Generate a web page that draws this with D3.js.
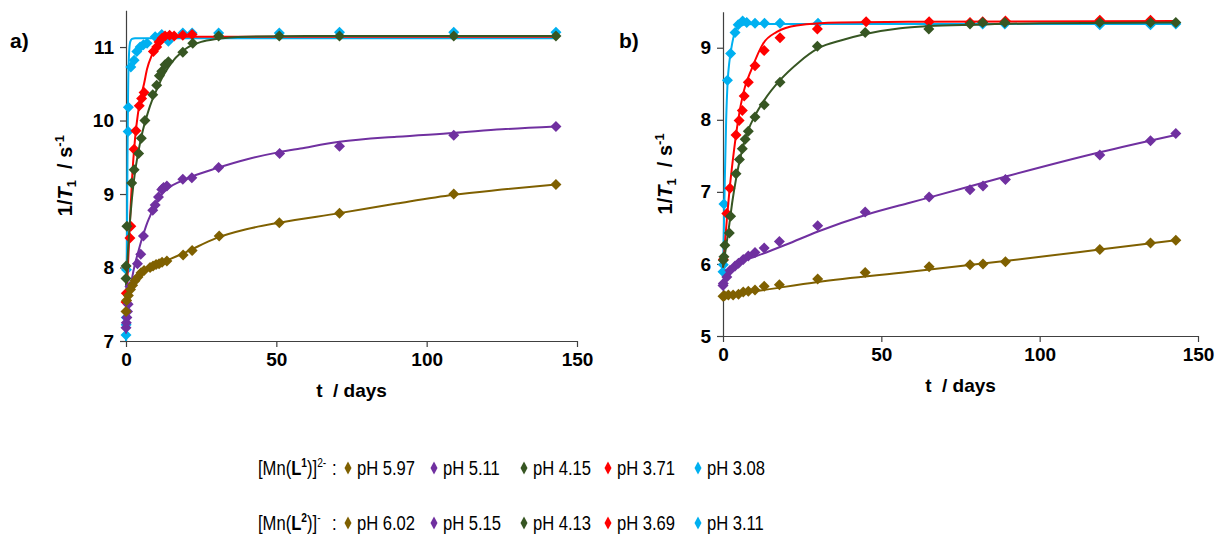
<!DOCTYPE html>
<html>
<head>
<meta charset="utf-8">
<script src="https://cdn.jsdelivr.net/npm/d3@7"></script>
<style>
  body { margin: 0; background: #fff; }
  svg text { font-family: "Liberation Sans", Arial, sans-serif; }
</style>
</head>
<body>
<div id="chart-container"></div>
<script>
// series labels / colours (same order in both panels)
const labelsL1 = ['pH 5.97', 'pH 5.11', 'pH 4.15', 'pH 3.71', 'pH 3.08'];
const labelsL2 = ['pH 6.02', 'pH 5.15', 'pH 4.13', 'pH 3.69', 'pH 3.11'];
const colors = ['#7F6000', '#7030A0', '#375623', '#FF0000', '#00B0F0'];

const xTicks = [0, 50, 100, 150];
const yTicksA = [7, 8, 9, 10, 11];
const yTicksB = [5, 6, 7, 8, 9];

// panel a) [Mn(L1)]2-  : measured points [t (days), 1/T1]
const ptsA597 = [[0,7.40],[0.2,7.55],[0.8,7.62],[1.5,7.70],[2.2,7.76],[3,7.82],[4,7.87],[5,7.93],[6,7.96],[8,8.00],[9,8.02],[10,8.04],[11,8.05],[12,8.07],[13.6,8.09],[19,8.17],[22,8.23],[31,8.43],[51,8.61],[71,8.74],[109,9.00],[143,9.13]];
const ptsA511 = [[0,7.18],[0.1,7.25],[0.3,7.32],[0.5,7.40],[0.7,7.50],[1.3,7.74],[3.8,8.05],[4.9,8.18],[5.8,8.43],[8.9,8.78],[9.7,8.85],[10.8,8.96],[11.9,9.06],[12.5,9.09],[13.6,9.11],[18.9,9.20],[21.9,9.22],[30.8,9.36],[51.1,9.55],[71,9.65],[109,9.80],[143,9.92]];
const ptsA415 = [[0,7.85],[0.05,8.02],[0.3,8.56],[1.9,9.15],[2.7,9.33],[4.2,9.55],[5.1,9.76],[6.3,10.0],[8.9,10.35],[10.2,10.48],[11.1,10.61],[11.9,10.67],[13,10.76],[14.1,10.8],[18.9,10.93],[22.2,11.05],[30.8,11.15],[51,11.15],[71,11.15],[109,11.15],[143,11.15]];
const ptsA371 = [[0,7.53],[0.1,7.65],[1.3,8.4],[1.6,8.56],[2.7,9.61],[3.3,9.86],[4.4,10.2],[5.2,10.3],[6,10.38],[9.1,10.94],[10.2,11.0],[11,11.07],[12,11.12],[13,11.15],[14.5,11.16],[16,11.15],[18.9,11.16],[22,11.17]];
const ptsA308 = [[0,7.08],[0.05,7.22],[0.1,7.32],[0.15,7.97],[0.7,9.85],[0.8,10.18],[1.6,10.73],[2.7,10.82],[3.6,10.94],[4.7,11.0],[5.8,11.03],[7,11.05],[9.7,11.14],[11.9,11.17],[14.1,11.08],[18.9,11.19],[22,11.19],[30.8,11.19],[51,11.19],[71,11.2],[109,11.2],[143,11.2]];

// panel a) fitted curves
const fitA597 = [[0,7.55],[1,7.68],[2,7.76],[4,7.87],[6,7.95],[10,8.03],[15,8.12],[20,8.21],[30,8.40],[40,8.52],[51,8.61],[71,8.74],[90,8.87],[109,8.99],[125,9.06],[143,9.13]];
const fitA511 = [[0,7.1],[1,7.55],[2,7.85],[3,8.05],[4,8.2],[5,8.35],[6,8.48],[7,8.6],[8,8.7],[9,8.8],[10,8.88],[12,9.0],[14,9.08],[18,9.17],[22,9.24],[30,9.35],[40,9.47],[51,9.57],[58,9.62],[71,9.71],[90,9.78],[109,9.83],[125,9.88],[143,9.92]];
const fitA415 = [[0,7.75],[1,8.45],[2,8.95],[3,9.3],[4,9.55],[5,9.76],[6,9.93],[7,10.07],[8,10.2],[10,10.4],[12,10.58],[14,10.72],[16,10.83],[18,10.91],[20,10.98],[25,11.07],[30,11.11],[40,11.14],[60,11.15],[143,11.15]];
const fitA371 = [[0,7.4],[1,8.35],[2,9.2],[3,9.75],[4,10.1],[5,10.33],[6,10.5],[7,10.7],[8.6,10.89],[10,11.0],[11.3,11.09],[14,11.13],[20,11.14],[143,11.14]];
const fitA308 = [[0,7.0],[0.3,8.2],[0.5,9.5],[0.7,10.4],[1,10.9],[1.4,11.07],[2,11.11],[3,11.12],[143,11.12]];

// panel b) [Mn(L2)]-  : measured points
const ptsB602 = [[0,5.55],[0.5,5.56],[1.7,5.57],[3.2,5.57],[4.9,5.58],[6.4,5.61],[8,5.62],[10.1,5.64],[13,5.69],[17.8,5.71],[29.9,5.79],[44.9,5.88],[65.1,5.96],[78,5.99],[82.1,6.0],[89.2,6.03],[119,6.2],[135,6.29],[143,6.33]];
const ptsB515 = [[0,5.70],[0.1,5.73],[1.2,5.82],[2.2,5.91],[3.8,5.97],[4.9,6.01],[6.4,6.06],[8,6.11],[10.1,6.16],[13,6.22],[17.8,6.31],[29.9,6.53],[44.9,6.72],[65.1,6.93],[78,7.03],[82.1,7.08],[89.2,7.17],[119,7.51],[135,7.71],[143,7.81]];
const ptsB413 = [[0.1,6.05],[0.3,6.1],[0.6,6.26],[2,6.43],[2.4,6.66],[4.1,7.25],[5.2,7.45],[6.1,7.6],[7,7.73],[8,7.84],[10.1,8.04],[13,8.21],[18,8.52],[29.8,9.02],[44.9,9.21],[65,9.26],[78,9.33],[82,9.35],[89,9.35],[119,9.35],[135,9.35],[143,9.35]];
const ptsB369 = [[0.1,6.06],[1.2,6.7],[2.2,7.05],[4.1,7.79],[5.1,7.99],[6.1,8.13],[6.7,8.33],[8,8.52],[10.1,8.75],[13,8.96],[18,9.14],[29.8,9.26],[45.2,9.36],[65.1,9.36],[78,9.35],[82,9.36],[89.2,9.37],[119,9.38],[135,9.38]];
const ptsB311 = [[0,5.89],[0.1,5.99],[0.3,6.83],[1.4,8.55],[2.4,8.92],[3.8,9.21],[4.8,9.32],[6.2,9.37],[7.5,9.35],[10.1,9.34],[13.1,9.34],[18,9.34],[30,9.34],[65,9.33],[82,9.33],[89,9.33],[119,9.32],[135,9.32],[143,9.33]];

// panel b) fitted curves
const fitB602 = [[0,5.56],[10,5.62],[30,5.75],[59,5.89],[89,6.04],[119,6.2],[143,6.33]];
const fitB515 = [[0,5.75],[1,5.86],[2.2,5.94],[5.4,6.03],[10,6.1],[20,6.27],[30,6.45],[45,6.68],[59,6.85],[65,6.92],[89,7.21],[119,7.55],[143,7.79]];
const fitB413 = [[0,5.95],[1,6.25],[2,6.55],[3,6.88],[4,7.15],[5,7.38],[6,7.57],[8,7.86],[10,8.05],[13,8.27],[18,8.55],[24,8.8],[30,8.99],[38,9.11],[45,9.19],[56,9.27],[65,9.3],[80,9.32],[100,9.34],[143,9.35]];
const fitB369 = [[0,5.95],[1.2,6.61],[2,7.0],[3.1,7.44],[4.8,8.0],[6.4,8.37],[9.1,8.71],[12.7,9.06],[17,9.22],[23.3,9.31],[37,9.35],[60,9.36],[143,9.37]];
const fitB311 = [[0,5.85],[0.5,7.0],[1,8.0],[1.5,8.55],[2,8.8],[2.9,9.06],[4.3,9.27],[6,9.32],[10,9.33],[143,9.33]];

const W = 1215, H = 535;
const svg = d3.select('#chart-container').append('svg')
    .attr('width', W)
    .attr('height', H);

const axisColor = '#404040';
const diamond = r => `M0,${-r}L${r},0L0,${r}L${-r},0Z`;

const drawPanel = ({pts, fits, yDomain, yTicks, xRange, yRange, tag, tagX, titleX}) => {
    const x = d3.scaleLinear().domain([0, 150]).range(xRange);
    const y = d3.scaleLinear().domain(yDomain).range(yRange);

    const g = svg.append('g');

    // x axis
    const gx = g.append('g')
        .attr('transform', `translate(0,${yRange[0]})`)
        .call(d3.axisBottom(x).tickValues(xTicks).tickFormat(d3.format('d'))
            .tickSize(6).tickSizeOuter(0).tickPadding(6));
    // y axis
    const gy = g.append('g')
        .attr('transform', `translate(${xRange[0]},0)`)
        .call(d3.axisLeft(y).tickValues(yTicks).tickFormat(d3.format('d'))
            .tickSize(6).tickSizeOuter(0).tickPadding(6));

    [gx, gy].forEach(ax => {
        ax.select('.domain').attr('stroke', axisColor).attr('stroke-width', 1.2);
        ax.selectAll('.tick line').attr('stroke', axisColor).attr('stroke-width', 1.2);
        ax.selectAll('.tick text')
            .attr('fill', '#000')
            .style('font-size', '19px')
            .style('font-weight', 'bold')
            .style('font-family', '"Liberation Sans", Arial, sans-serif');
    });

    const line = d3.line()
        .x(d => x(d[0]))
        .y(d => y(d[1]))
        .curve(d3.curveMonotoneX);

    // draw series: markers then fit line, blue first so that slower series sit on top
    [4, 3, 2, 1, 0].forEach(i => {
        g.append('g')
            .selectAll('path')
            .data(pts[i])
            .enter()
            .append('path')
            .attr('d', diamond(5.5))
            .attr('transform', d => `translate(${x(d[0])},${y(d[1])})`)
            .attr('fill', colors[i]);

        g.append('path')
            .datum(fits[i])
            .attr('d', line)
            .attr('fill', 'none')
            .attr('stroke', colors[i])
            .attr('stroke-width', 2);
    });

    // y title: 1/T1 / s-1
    const cy = (yRange[0] + yRange[1]) / 2;
    const yt = g.append('text')
        .attr('transform', `translate(${titleX},${cy}) rotate(-90)`)
        .attr('text-anchor', 'middle')
        .style('font-size', '20px')
        .style('font-weight', 'bold');
    yt.append('tspan').text('1/');
    yt.append('tspan').style('font-style', 'italic').text('T');
    yt.append('tspan').attr('dy', 4).style('font-size', '13px').text('1');
    yt.append('tspan').attr('dy', -4).text('\u00a0\u00a0/ s');
    yt.append('tspan').attr('dy', -8).style('font-size', '13px').text('-1');

    // x title
    g.append('text')
        .attr('x', (xRange[0] + xRange[1]) / 2)
        .attr('y', yRange[0] + 56)
        .attr('text-anchor', 'middle')
        .style('font-size', '19px')
        .style('font-weight', 'bold')
        .text('t\u00a0\u00a0/ days');

    // panel tag
    g.append('text')
        .attr('x', tagX)
        .attr('y', 48)
        .style('font-size', '21px')
        .style('font-weight', 'bold')
        .text(tag);
};

drawPanel({
    pts: [ptsA597, ptsA511, ptsA415, ptsA371, ptsA308],
    fits: [fitA597, fitA511, fitA415, fitA371, fitA308],
    yDomain: [7, 11.5], yTicks: yTicksA,
    xRange: [126, 577], yRange: [341, 10.3],
    tag: 'a)', tagX: 10, titleX: 72
});

drawPanel({
    pts: [ptsB602, ptsB515, ptsB413, ptsB369, ptsB311],
    fits: [fitB602, fitB515, fitB413, fitB369, fitB311],
    yDomain: [5, 9.5], yTicks: yTicksB,
    xRange: [723, 1198], yRange: [336, 11.7],
    tag: 'b)', tagX: 619, titleX: 672
});

// legend
const legendX = [348, 434, 524, 608, 698];
const legendRows = [
    {y: 475, labels: labelsL1, lig: '1', charge: '2-'},
    {y: 530, labels: labelsL2, lig: '2', charge: '-'}
];
const sx = 0.79;

legendRows.forEach(row => {
    const lg = svg.append('g');
    const t = lg.append('text')
        .attr('transform', `translate(258,${row.y}) scale(${sx},1)`)
        .style('font-size', '21px');
    t.append('tspan').text('[Mn(');
    t.append('tspan').style('font-weight', 'bold').text('L');
    t.append('tspan').attr('dy', -8).style('font-size', '13px').style('font-weight', 'bold').text(row.lig);
    t.append('tspan').attr('dy', 8).text(')]');
    t.append('tspan').attr('dy', -8).style('font-size', '13px').text(row.charge);

    lg.append('text')
        .attr('transform', `translate(332,${row.y}) scale(${sx},1)`)
        .style('font-size', '21px')
        .text(':');

    row.labels.forEach((lab, i) => {
        lg.append('path')
            .attr('d', 'M0,-6.5L3.5,0L0,6.5L-3.5,0Z')
            .attr('transform', `translate(${legendX[i]},${row.y - 7})`)
            .attr('fill', colors[i]);
        lg.append('text')
            .attr('transform', `translate(${legendX[i] + 9},${row.y}) scale(${sx},1)`)
            .style('font-size', '21px')
            .text(lab);
    });
});
</script>
</body>
</html>
